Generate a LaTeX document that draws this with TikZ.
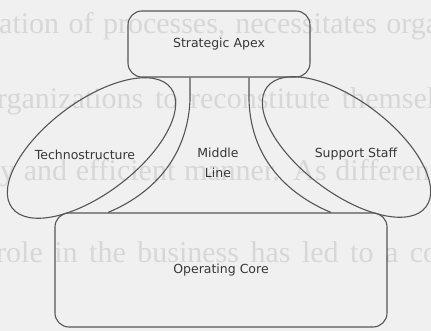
\documentclass[tikz,border=0pt]{standalone}
\usepackage{fontspec}
\setmainfont{Liberation Serif}
\newfontfamily\labelfont{DejaVu Sans}
\usetikzlibrary{shapes.geometric}
\definecolor{paper}{RGB}{240,240,240}
\definecolor{ink}{RGB}{85,85,85}
\definecolor{labelink}{RGB}{55,55,55}
\definecolor{showthrough}{RGB}{215,215,215}

\begin{document}
\begin{tikzpicture}[x=1pt,y=-1pt,
  part/.style={draw=ink, line width=1.1pt, rounded corners=14pt, inner sep=0pt,
    font=\labelfont\fontsize{12.5}{15}\selectfont, text=labelink},
  unit/.style={draw=ink, line width=1.1pt, ellipse, inner sep=0pt,
    minimum width=199pt, minimum height=92pt},
  label/.style={font=\labelfont\fontsize{12.5}{20}\selectfont, text=labelink,
    align=center, inner sep=0pt},
  link/.style={draw=ink, line width=1.1pt},
  bgline/.style={anchor=base west, inner sep=0pt, text=showthrough,
    font=\fontsize{30}{32}\selectfont}]

% paper and the printed page showing through it
\fill[paper] (0,0) rectangle (431,331);
\useasboundingbox (0,0) rectangle (431,331);
\begin{scope}
  \clip (0,0) rectangle (431,331);
  \node[bgline] (p1) at (-1,34)  {\makebox[440pt][s]{ation of processes, necessitates orga}};
  \node[bgline] (p2) at (-3,109) {\makebox[438pt][s]{rganizations to reconstitute themsel}};
  \node[bgline] (p3) at (0,181)  {\makebox[438pt][s]{y and efficient manner. As different}};
  \node[bgline] (p4) at (-4,262) {\makebox[442pt][s]{role in the business has led to a co}};
\end{scope}

% the five parts of the organisation
\node[part, minimum width=182pt, minimum height=66pt] (apex) at (219,44) {Strategic Apex};
\node[part, minimum width=332pt, minimum height=114pt] (core) at (221,270) {Operating Core};
\node[unit, rotate=37]  (techno)  at (91.5,148) {};
\node[unit, rotate=-37] (support) at (346.5,147) {};

\node[label] (technolabel)  at (85,155)  {Technostructure};
\node[label] (supportlabel) at (356,154) {Support Staff};
\node[label] (middlelabel)  at (218,163) {Middle\\Line};

% middle line joining the apex to the operating core
\draw[link] ([xshift=-29pt]apex.south) -- ++(0,23)
  .. controls (187,160) and (150,195) .. ([xshift=-113pt]core.north);
\draw[link] ([xshift=30pt]apex.south) -- ++(0,23)
  .. controls (251,160) and (289,195) .. ([xshift=110pt]core.north);
\end{tikzpicture}
\end{document}
